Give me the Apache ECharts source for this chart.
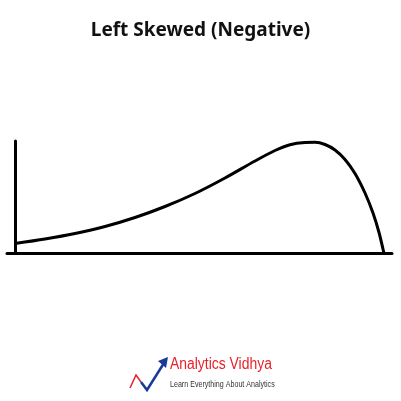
<!DOCTYPE html>
<html><head><meta charset="utf-8">
<script src="https://cdn.jsdelivr.net/npm/echarts@6/dist/echarts.min.js"></script>
<style>html,body{margin:0;padding:0;background:#fff}#c{width:401px;height:401px}</style>
</head><body><div id="c"></div>
<script>
const xValues = [0, 30, 60, 90, 120, 150, 180, 210, 240, 260, 275, 290, 300, 310, 320, 330, 340, 350, 358, 364, 369];
const yValues = [10, 14.5, 20, 27, 36, 47, 60, 75.5, 92.5, 103, 108.8, 111, 111.2, 109, 103.5, 94, 80, 60.5, 40.5, 21, 0];
const titleText = 'Left Skewed (Negative)';
const brandText = 'Analytics Vidhya';
const taglineText = 'Learn Everything About Analytics';

const chart = echarts.init(document.getElementById('c'), null, {renderer: 'canvas'});
chart.setOption({
  animation: false,
  backgroundColor: '#fff',
  title: {
    text: titleText, left: 'center', top: 16,
    textStyle: {fontFamily: 'Noto Sans', fontWeight: 'bold', fontSize: 19, color: '#111'}
  },
  grid: {left: 7, right: 9, top: 141, bottom: 147.5},
  xAxis: {
    type: 'value', min: -8, max: 377,
    axisLine: {show: true, onZero: true, lineStyle: {color: '#000', width: 3}},
    axisTick: {show: false}, axisLabel: {show: false}, splitLine: {show: false}
  },
  yAxis: {
    type: 'value', min: 0, max: 112.5,
    axisLine: {show: true, onZero: true, lineStyle: {color: '#000', width: 3}},
    axisTick: {show: false}, axisLabel: {show: false}, splitLine: {show: false}
  },
  series: [{
    type: 'line', smooth: 0.3, showSymbol: false,
    data: xValues.map((x, i) => [x, yValues[i]]),
    lineStyle: {color: '#000', width: 3}
  }],
  graphic: [
    {type: 'polyline', shape: {points: [[130, 388], [136, 375], [141, 382]]}, style: {stroke: '#e8202a', lineWidth: 1.5, fill: null}},
    {type: 'polyline', shape: {points: [[141, 382], [147, 390], [164, 363]]}, style: {stroke: '#1a3a9a', lineWidth: 2.5, fill: null}},
    {type: 'polygon', shape: {points: [[168, 357], [158, 361], [166, 368]]}, style: {fill: '#1a3a9a'}},
    {type: 'text', x: 170, y: 357, scaleX: 0.87, style: {text: brandText, font: '16px "Liberation Sans", sans-serif', fill: '#e8202a'}},
    {type: 'text', x: 170, y: 380, scaleX: 0.79, style: {text: taglineText, font: '9px "Liberation Sans", sans-serif', fill: '#333'}}
  ]
});
</script></body></html>
